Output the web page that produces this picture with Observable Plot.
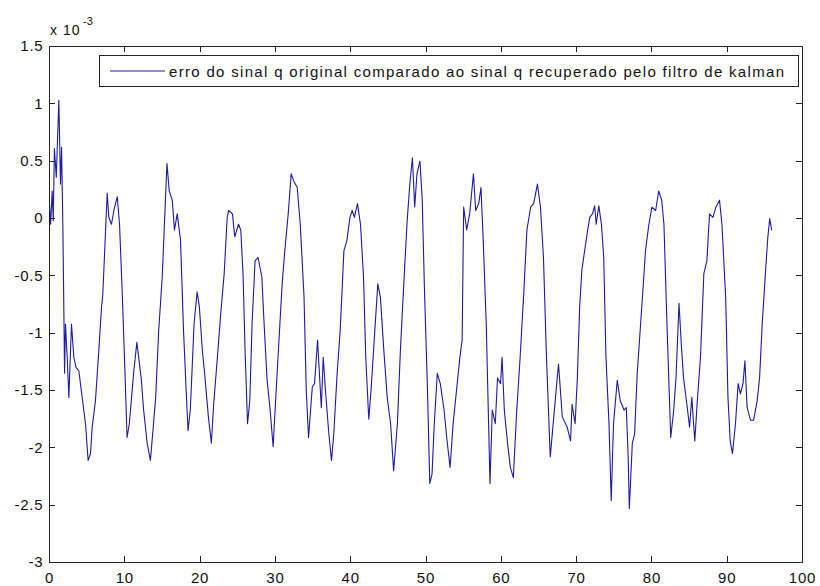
<!DOCTYPE html>
<html><head><meta charset="utf-8">
<script src="https://cdn.jsdelivr.net/npm/d3@7"></script>
<script src="https://cdn.jsdelivr.net/npm/@observablehq/plot@0.6"></script>
<style>
html,body{margin:0;padding:0;background:#fff;}
#chart{width:820px;height:586px;}
</style></head><body><div id="chart"></div>
<script>
// time (s) samples of the error signal
const xValues = [0,0.15,0.36,0.5,0.65,0.9,1.24,1.46,1.6,1.77,1.9,2.0,2.12,2.35,2.57,2.92,3.23,3.54,3.9,4.34,4.78,5.13,5.44,5.67,6.1,6.55,6.9,7.08,7.35,7.66,7.88,8.23,8.55,9.0,9.3,9.65,10.0,10.3,10.6,10.9,11.2,11.6,11.95,12.2,12.5,12.97,13.4,13.7,14.1,14.5,14.97,15.3,15.6,15.9,16.3,16.6,16.96,17.4,17.8,18.15,18.4,18.7,19.2,19.6,19.9,20.3,20.6,21.1,21.5,21.8,22.3,22.7,23.2,23.6,23.8,24.3,24.6,25.1,25.4,25.7,26.0,26.3,26.6,26.9,27.3,27.7,28.2,28.5,28.9,29.3,29.7,30.0,30.45,30.9,31.25,31.7,32.1,32.4,32.9,33.3,33.8,34.1,34.4,34.9,35.2,35.6,35.8,36.1,36.35,36.65,37.1,37.45,37.75,38.2,38.6,39.1,39.5,39.9,40.2,40.5,40.9,41.3,41.7,42.0,42.4,42.7,43.2,43.6,43.95,44.4,44.85,45.3,45.7,46.2,46.6,47.05,47.5,47.85,48.2,48.5,48.8,49.2,49.5,49.8,50.2,50.5,50.8,51.1,51.5,51.9,52.4,52.8,53.2,53.6,54.05,54.5,54.8,55.0,55.4,55.8,56.3,56.6,57.0,57.3,57.6,58.0,58.5,58.8,59.2,59.5,59.9,60.1,60.4,60.8,61.2,61.6,62.0,62.5,63.0,63.4,63.9,64.3,64.8,65.2,65.6,66.0,66.5,66.97,67.4,67.6,68.1,68.75,69.2,69.4,69.8,70.1,70.4,70.7,71.2,71.4,71.75,72.1,72.4,72.6,72.95,73.3,73.6,73.9,74.3,74.6,74.9,75.4,75.8,76.3,76.6,76.85,77.0,77.4,77.7,78.05,78.5,78.8,79.15,79.6,80.0,80.5,80.9,81.3,81.6,82.0,82.5,82.9,83.2,83.6,83.9,84.2,84.7,85.0,85.3,85.7,86.0,86.45,86.9,87.3,87.65,88.1,88.5,88.98,89.3,89.8,90.1,90.4,90.7,91.1,91.45,91.75,92.1,92.35,92.65,93.1,93.5,93.98,94.3,94.65,95.1,95.4,95.65,95.9];
// error values in units of 1e-3
const yValues = [0.13,-0.05,0.24,-0.02,0.61,0.36,1.03,0.30,0.62,-0.05,-0.77,-1.35,-0.92,-1.21,-1.56,-0.92,-1.21,-1.3,-1.33,-1.56,-1.79,-2.11,-2.05,-1.82,-1.59,-1.15,-0.78,-0.66,-0.25,0.22,0.01,-0.05,0.07,0.19,-0.05,-0.63,-1.3,-1.91,-1.79,-1.56,-1.33,-1.08,-1.27,-1.41,-1.67,-1.96,-2.11,-1.88,-1.56,-0.98,-0.51,0.01,0.48,0.24,0.16,-0.1,0.04,-0.19,-0.98,-1.5,-1.85,-1.67,-0.92,-0.64,-0.77,-1.15,-1.35,-1.73,-1.96,-1.62,-1.21,-0.86,-0.48,0.01,0.07,0.04,-0.16,-0.05,-0.1,-0.48,-1.21,-1.79,-1.59,-0.92,-0.37,-0.34,-0.51,-0.92,-1.41,-1.67,-1.99,-1.62,-1.09,-0.57,-0.28,0.04,0.39,0.33,0.27,-0.05,-0.68,-1.5,-1.91,-1.47,-1.44,-1.06,-1.3,-1.65,-1.21,-1.5,-1.88,-2.11,-1.88,-1.35,-0.98,-0.28,-0.19,0.01,0.07,0.01,0.13,-0.05,-0.51,-1.21,-1.75,-1.5,-0.98,-0.57,-0.69,-1.15,-1.56,-1.79,-2.2,-1.79,-1.15,-0.57,-0.02,0.3,0.53,0.1,0.39,0.5,0.16,-0.63,-1.5,-2.31,-2.23,-1.79,-1.35,-1.44,-1.67,-1.94,-2.17,-1.79,-1.5,-1.21,-1.06,0.1,-0.1,0.04,0.39,0.07,0.13,0.27,-0.19,-0.92,-2.31,-1.67,-1.79,-1.39,-1.44,-1.21,-1.67,-1.94,-2.17,-2.26,-1.73,-1.21,-0.63,-0.1,0.1,0.13,0.3,0.1,-0.34,-1.21,-2.08,-1.73,-1.41,-1.27,-1.73,-1.82,-1.94,-1.62,-1.79,-1.39,-0.78,-0.45,-0.22,-0.13,0.01,0.04,0.11,-0.05,0.11,-0.05,-0.34,-1.21,-1.79,-2.46,-1.79,-1.41,-1.59,-1.67,-1.65,-2.08,-2.53,-1.96,-1.88,-1.35,-0.92,-0.63,-0.28,-0.05,0.1,0.07,0.24,0.16,-0.05,-0.92,-1.91,-1.67,-1.39,-0.74,-1.09,-1.39,-1.65,-1.82,-1.56,-1.94,-1.62,-1.21,-0.48,-0.37,0.04,0.01,0.1,0.16,-0.05,-0.69,-1.56,-1.94,-2.05,-1.79,-1.44,-1.53,-1.44,-1.24,-1.65,-1.76,-1.76,-1.59,-1.39,-0.92,-0.45,-0.16,0.0,-0.1];
const xTicks = [0,10,20,30,40,50,60,70,80,90,100];
const yTicks = [-3,-2.5,-2,-1.5,-1,-0.5,0,0.5,1,1.5];
const legendLabel = "erro do sinal q original comparado ao sinal q recuperado pelo filtro de kalman";
const exponentBase = "x 10";
const exponentPower = "-3";

const data = xValues.map((x, i) => ({x, y: yValues[i]}));
const W = 820, H = 586, mL = 49, mR = 18, mT = 46, mB = 24;
const tickLen = 6;
const axisColor = "#262626";
const lineColor = "#1c1ca6";
const font = "'Liberation Sans', Arial, sans-serif";

const plot = Plot.plot({
  width: W, height: H,
  marginLeft: mL, marginRight: mR, marginTop: mT, marginBottom: mB,
  style: {fontFamily: font, fontSize: "15px", color: "#111", background: "#fff", letterSpacing: "0.8px"},
  x: {domain: [0, 100]},
  y: {domain: [-3, 1.5]},
  marks: [
    Plot.line(data, {x: "x", y: "y", stroke: lineColor, strokeWidth: 1.1}),
    Plot.frame({stroke: axisColor}),
    Plot.axisX({ticks: xTicks, tickSize: 0, tickPadding: 10, tickFormat: d => String(d), label: null}),
    Plot.axisY({ticks: yTicks, tickSize: 0, tickPadding: 6, tickFormat: d => String(d), label: null})
  ]
});

const sx = plot.scale("x"), sy = plot.scale("y");
const svg = d3.select(plot);
const frameTop = mT, frameBottom = H - mB, frameLeft = mL, frameRight = W - mR;
// inward ticks on all four sides (MATLAB box style)
const tg = svg.append("g").attr("stroke", axisColor).attr("stroke-width", 1);
for (const t of xTicks) {
  const px = Math.round(sx.apply(t)) + 0.5;
  tg.append("line").attr("x1", px).attr("x2", px).attr("y1", frameBottom).attr("y2", frameBottom - tickLen);
  tg.append("line").attr("x1", px).attr("x2", px).attr("y1", frameTop).attr("y2", frameTop + tickLen);
}
for (const t of yTicks) {
  const py = Math.round(sy.apply(t)) + 0.5;
  tg.append("line").attr("x1", frameLeft).attr("x2", frameLeft + tickLen).attr("y1", py).attr("y2", py);
  tg.append("line").attr("x1", frameRight).attr("x2", frameRight - tickLen).attr("y1", py).attr("y2", py);
}

const lg = svg.append("g");
lg.append("rect").attr("x", 99.5).attr("y", 55.5).attr("width", 699).attr("height", 31)
  .attr("fill", "#fff").attr("stroke", axisColor);
lg.append("line").attr("x1", 110).attr("x2", 165).attr("y1", 71).attr("y2", 71)
  .attr("stroke", lineColor).attr("stroke-width", 1.1);
lg.append("text").attr("x", 169).attr("y", 76.5).attr("text-anchor", "start")
  .attr("textLength", 615).attr("lengthAdjust", "spacing")
  .style("font-family", font).style("font-size", "15px").style("letter-spacing", "0px")
  .attr("fill", "#111").text(legendLabel);

const ex = svg.append("g").attr("fill", "#111").attr("text-anchor", "start").style("font-family", font);
ex.append("text").attr("x", 50).attr("y", 35).style("font-size", "14px").style("letter-spacing", "1px").text(exponentBase);
ex.append("text").attr("x", 83).attr("y", 25).style("font-size", "11px").style("letter-spacing", "0px").text(exponentPower);

document.getElementById("chart").appendChild(plot);
</script>
</body></html>
